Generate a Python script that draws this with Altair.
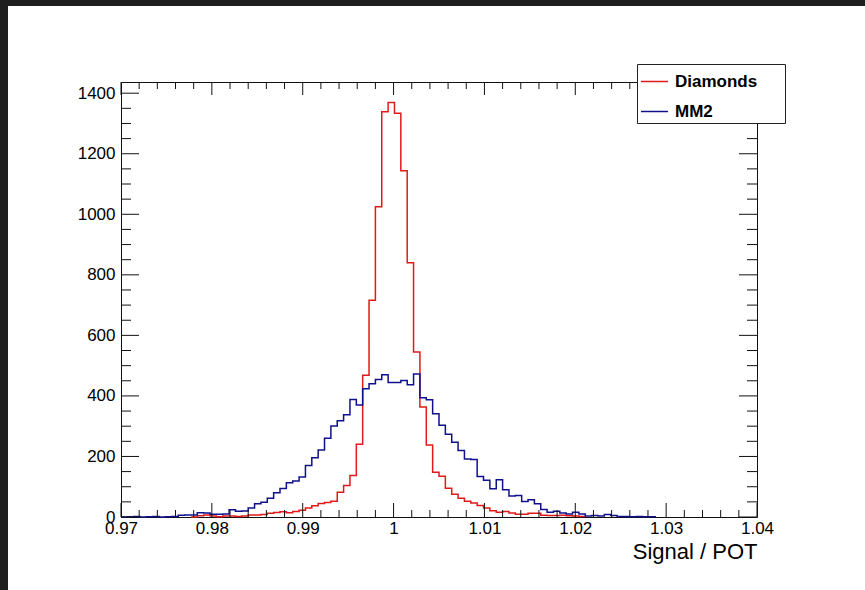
import altair as alt
import pandas as pd

# ---------------- data ----------------
X_MIN, X_MAX = 0.97, 1.04
BIN_WIDTH = 0.0007
Y_MAX = 1437

series_names = ["Diamonds", "MM2"]
series_colors = ["#e01a1a", "#10108c"]

# Diamonds histogram: counts starting at bin index 11
diamonds_first_bin = 11
diamonds_counts = [0, 4, 7, 3, 1, 3, 3, 2, 3, 7, 7, 8, 12, 15, 17, 14, 18, 22, 30, 37,
                   45, 48, 52, 82, 104, 137, 240, 468, 716, 1025, 1339, 1369, 1334, 1144,
                   840, 545, 363, 238, 148, 135, 95, 75, 62, 52, 46, 38, 30, 21, 16, 18,
                   13, 9, 9, 12, 12, 6, 5, 5, 6, 4, 3, 2]

# MM2 histogram: counts starting at bin index 0
mm2_first_bin = 0
mm2_counts = [0, 1, 2, 0, 1, 2, 0, 1, 2, 6, 7, 7, 14, 13, 9, 9, 10, 24, 19, 20,
              30, 44, 49, 62, 80, 94, 113, 119, 132, 170, 196, 221, 260, 301, 318, 338,
              388, 370, 424, 440, 454, 470, 444, 444, 451, 437, 472, 394, 387, 341, 303,
              273, 247, 220, 192, 190, 134, 121, 93, 123, 90, 69, 71, 51, 57, 44, 25,
              16, 19, 13, 10, 16, 10, 3, 5, 3, 8, 5, 2, 2, 1, 2, 1, 1]

x_major_ticks = [0.97, 0.98, 0.99, 1.00, 1.01, 1.02, 1.03, 1.04]
y_major_ticks = [0, 200, 400, 600, 800, 1000, 1200, 1400]

# ---------------- build tables ----------------
def step_rows(first_bin, counts, name):
    rows = []
    for k, c in enumerate(counts):
        rows.append({"x": X_MIN + (first_bin + k) * BIN_WIDTH, "y": c, "series": name})
    rows.append({"x": X_MIN + (first_bin + len(counts)) * BIN_WIDTH, "y": 0, "series": name})
    return rows

hist_df = pd.DataFrame(step_rows(diamonds_first_bin, diamonds_counts, series_names[0])
                       + step_rows(mm2_first_bin, mm2_counts, series_names[1]))

x_minor_ticks = [round(X_MIN + 0.002 * k, 4) for k in range(36)]
x_minor_ticks = [v for v in x_minor_ticks if all(abs(v - m) > 1e-6 for m in x_major_ticks)]
y_minor_ticks = [50 * k for k in range(1, 29) if (50 * k) % 200 != 0]

W, H = 636, 435
FONT = "Liberation Sans"
AXC = "#111111"

x_scale = alt.Scale(domain=[X_MIN, X_MAX], nice=False, zero=False)
y_scale = alt.Scale(domain=[0, Y_MAX], nice=False, zero=True)

x_axis = alt.Axis(values=x_major_ticks, format=".2~f", labelFont=FONT, labelFontSize=17,
                  labelColor="#000", labelPadding=3, labelFlush=False, labelOverlap=False,
                  ticks=False, domain=False, grid=False,
                  title="Signal / POT", titleFont=FONT, titleFontSize=22,
                  titleFontWeight="normal", titleColor="#000", titleAnchor="end",
                  titlePadding=5)
y_axis = alt.Axis(values=y_major_ticks, format="d", labelFont=FONT, labelFontSize=17,
                  labelColor="#000", labelPadding=6, labelFlush=False, labelOverlap=False,
                  ticks=False, domain=False, grid=False, title=None)

PAD_CHARS = "\u2800\u2800"
hist = alt.Chart(hist_df).mark_line(interpolate="step-after", strokeWidth=1.5).encode(
    x=alt.X("x:Q", scale=x_scale, axis=x_axis),
    y=alt.Y("y:Q", scale=y_scale, axis=y_axis),
    color=alt.Color("series:N",
                    scale=alt.Scale(domain=series_names, range=series_colors),
                    legend=alt.Legend(title=None, orient="none", legendX=516, legendY=-18,
                                      strokeColor="#222", fillColor="#fff", padding=3,
                                      symbolType="stroke", symbolSize=729, symbolStrokeWidth=1.5,
                                      labelFont=FONT, labelFontSize=17, labelFontWeight="bold",
                                      labelColor="#000", rowPadding=7, labelOffset=6,
                                      labelExpr="datum.label + '" + PAD_CHARS + "'")),
)

def xticks(vals, top_len, bot_len):
    d = pd.DataFrame({"v": vals})
    bottom = alt.Chart(d).mark_rule(color=AXC, strokeWidth=1).encode(
        x=alt.X("v:Q", scale=x_scale, axis=x_axis), y=alt.value(H), y2=alt.value(H - bot_len))
    top = alt.Chart(d).mark_rule(color=AXC, strokeWidth=1).encode(
        x=alt.X("v:Q", scale=x_scale, axis=x_axis), y=alt.value(0), y2=alt.value(top_len))
    return [bottom, top]

def yticks(vals, length):
    d = pd.DataFrame({"v": vals})
    left = alt.Chart(d).mark_rule(color=AXC, strokeWidth=1).encode(
        y=alt.Y("v:Q", scale=y_scale, axis=y_axis), x=alt.value(0), x2=alt.value(length))
    right = alt.Chart(d).mark_rule(color=AXC, strokeWidth=1).encode(
        y=alt.Y("v:Q", scale=y_scale, axis=y_axis), x=alt.value(W), x2=alt.value(W - length))
    return [left, right]

one = pd.DataFrame({"a": [0]})
border_left = alt.Chart(one).mark_rect(color="#1f1f1f").encode(
    x=alt.value(-121), x2=alt.value(-113), y=alt.value(-82), y2=alt.value(590 - 82))
border_top = alt.Chart(one).mark_rect(color="#1f1f1f").encode(
    x=alt.value(-121), x2=alt.value(865 - 121), y=alt.value(-82), y2=alt.value(-76))

layers = [hist]
layers += xticks(x_minor_ticks, 7, 7)
layers += xticks(x_major_ticks, 13, 14)
layers += yticks(y_minor_ticks, 10)
layers += yticks(y_major_ticks, 18)
layers += [border_left, border_top]

chart = alt.layer(*layers).properties(
    width=W, height=H,
    autosize=alt.AutoSizeParams(type="none"),
    padding={"left": 121, "top": 82, "right": 108, "bottom": 73},
    background="#ffffff",
).configure_view(stroke="#111111", strokeWidth=1)

chart.save("out.html", embed_options={"renderer": "svg", "actions": False})
